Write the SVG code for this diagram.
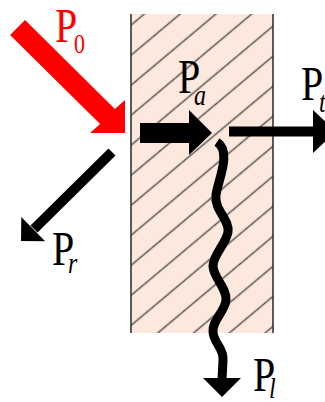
<svg xmlns="http://www.w3.org/2000/svg" width="325" height="402" viewBox="0 0 325 402">
<style>
.lbl{font-family:"Liberation Serif","Times New Roman",serif;fill:#000}
.sub{font-family:"Liberation Serif","Times New Roman",serif;font-style:italic;fill:#000}
.blk{fill:#000}
.ln{stroke:#000;fill:none}
</style>
<defs>
<pattern id="hatch" patternUnits="userSpaceOnUse" width="40" height="23" patternTransform="rotate(-40)">
<line x1="0" y1="11.5" x2="40" y2="11.5" stroke="#555" stroke-width="1.3"/>
</pattern>
</defs>
<rect width="325" height="402" fill="#fff"/>
<g id="slab">
<rect x="131" y="14" width="142" height="319" fill="#fce8dc"/>
<rect x="131" y="14" width="142" height="319" fill="url(#hatch)"/>
<line x1="131" y1="14" x2="131" y2="333" stroke="#333" stroke-width="1.6"/>
<line x1="273" y1="14" x2="273" y2="333" stroke="#333" stroke-width="1.6"/>
</g>
<g id="connectors">
<polygon id="arrow-P0" fill="#ff0000" points="25,20 114.9,109.1 125,100 125,133 90,133 100.1,123.9 10,35"/>
<polygon id="arrow-Pa" class="blk" points="140,123 189,123 189,110 212,133 189,155 189,143 140,143"/>
<g id="arrow-Pt">
<line class="ln" x1="229" y1="131.5" x2="315" y2="131.5" stroke-width="10"/>
<polygon class="blk" points="313,110 336,131.5 313,153"/>
</g>
<g id="arrow-Pr">
<line class="ln" x1="112" y1="152" x2="34" y2="229" stroke-width="10"/>
<polygon class="blk" points="45.1,241.3 21,241 21.3,216.9"/>
</g>
<g id="arrow-Pl">
<path class="ln" stroke-width="9" d="M217,142 C232,152 218,180 216,195 S230,220 228,232 S213,255 213,266 S227,288 226,300 S212,320 213,332 S224,348 223,360 L222,380"/>
<polygon class="blk" points="203,378 241,378 222,397"/>
</g>
</g>
<g id="label-P0">
<text class="lbl" style="fill:#ff0000" font-size="40" transform="translate(55,42) scale(1,1.2)">P</text>
<text class="lbl" style="fill:#ff0000" font-size="22" transform="translate(74,53) scale(1,1.2)">0</text>
</g>
<g id="label-Pa">
<text class="lbl" font-size="40" transform="translate(178,93) scale(1,1.2)">P</text>
<text class="sub" font-size="24" transform="translate(194,105) scale(1,1.2)">a</text>
</g>
<g id="label-Pt">
<text class="lbl" font-size="40" transform="translate(301,100) scale(1,1.2)">P</text>
<text class="sub" font-size="24" transform="translate(319,112) scale(1,1.2)">t</text>
</g>
<g id="label-Pr">
<text class="lbl" font-size="40" transform="translate(52,265) scale(1,1.2)">P</text>
<text class="sub" font-size="24" transform="translate(68,273) scale(1,1.2)">r</text>
</g>
<g id="label-Pl">
<text class="lbl" font-size="40" transform="translate(253,391) scale(1,1.2)">P</text>
<text class="sub" font-size="24" transform="translate(269,398) scale(1,1.2)">l</text>
</g>
</svg>
